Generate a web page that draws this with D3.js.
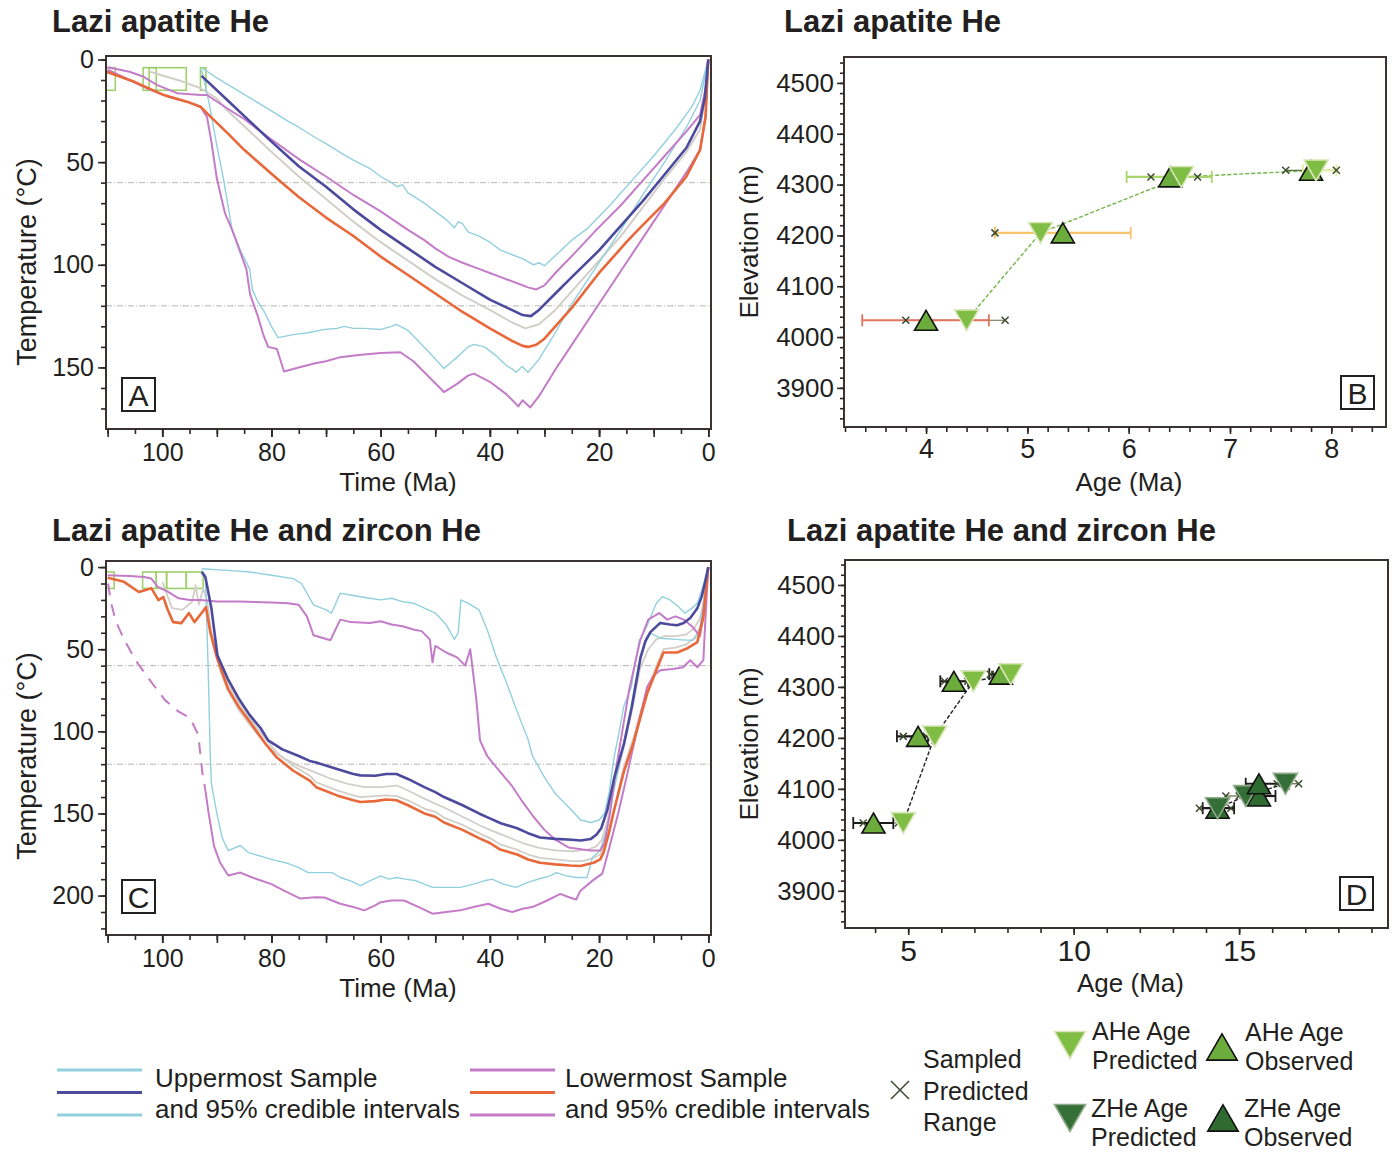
<!DOCTYPE html>
<html>
<head>
<meta charset="utf-8">
<script src="https://cdn.jsdelivr.net/npm/d3@7"></script>
<style>
  body { margin: 0; background: #fff; }
  svg { font-family: "Liberation Sans", Arial, sans-serif; }
</style>
</head>
<body>
<svg id="fig" width="1394" height="1152"></svg>
<script>
// ---- tick labels ----
const timeTicks = [100, 80, 60, 40, 20, 0];
const tempTicksA = [0, 50, 100, 150];
const tempTicksC = [0, 50, 100, 150, 200];
const elevTicks = [3900, 4000, 4100, 4200, 4300, 4400, 4500];
const ageTicksB = [4, 5, 6, 7, 8];
const ageTicksD = [5, 10, 15];
const przLimits = [60, 120];

// ---- panel A: time (Ma), temperature (C) ----
const aBoxes = [[110.4, 108.6, 4, 15], [103.5, 101.1, 4, 15], [102.4, 95.6, 4, 15], [93, 92, 4, 15]];
const aUpper = [[92.8,8],[88,20],[84,30],[80,40],[75,52],[70,62],[65,73],[60,83],[55,92],[50,101],[45,109],[40,117],[36,122],[34,124.5],[32.5,125],[31,122],[28,114],[25,106],[20,93],[17,84],[12,69],[8,56],[4,43],[1.5,30],[0.6,18],[0,0]];
const aMid = [[102.2,6],[96,11],[93,14],[90,19],[88,25],[84,35],[80,45],[75,57],[70,68],[65,79],[60,89],[55,98],[50,107],[45,115],[40,122],[36,128],[33.5,131],[31,129],[28,122],[25,113],[20,98],[16,86],[12,72],[8,58],[4,45],[1.5,34],[0.5,18],[0,0]];
const aLower = [[110.2,6],[105,11],[100,17],[95,21],[93,23],[91.5,27],[88,36],[85,44],[79,58],[75,67],[70,77],[65,86],[60,96],[55,105],[50,114],[45,123],[40,131],[36,137],[34,139.5],[33,140],[31.5,139],[30,136],[25,121],[20,104],[15,89],[12.5,82],[8,70],[4,57],[1.5,44],[0.5,28],[0,0]];
const aUpperCold = [[92.8,4],[90,9],[85,17],[80,25],[77,30],[75,33],[72,38],[70,41],[67,46],[65,49],[62,53],[60,57],[58,60],[57,62],[56,61],[55,65],[52,70],[50,74],[48,78],[46.5,82],[45.8,79],[45,80],[44,84],[42,86],[40,89],[38,93],[36,95],[34,97],[32,100],[31,99],[30,100.5],[29,98],[27,93],[25,88],[22,82],[18,71],[14,59],[10,47],[6,34],[3,23],[1.5,15],[0,0]];
const aUpperHot = [[92.8,5],[91.5,20],[90,42],[88.8,58],[87.2,83],[85.5,94],[84,102],[83.5,112],[82.5,118],[81.3,123],[80,130],[78.8,135.5],[76,134],[73,133],[70.3,131.5],[68,131],[66.7,130],[65,131],[63,131],[60,131.5],[58,130],[57.1,129],[55,132],[53.5,136],[51,143],[48.4,150.5],[46,145],[44,140],[42.9,138.8],[41,140],[39,144],[37,149],[35.8,151],[35.2,152.4],[34.1,149.5],[33,152.4],[31,146],[28,133],[25,119],[20,99],[16,83],[12,66],[8,50],[4,33],[1.5,20],[0,0]];
const aLowerCold = [[110,3.8],[106,6],[103.4,8.4],[101,12.4],[97.3,16.4],[93,17.3],[91.8,17.3],[88,24],[85,29],[80,39],[74.7,49],[70,57],[65,66],[60,74],[55,83],[52,88],[50,92],[47.6,96],[45,99],[42,102],[40,104],[38,106],[35,109],[33,111],[31.5,112],[30,110],[28,104],[24,93],[20.5,83],[16,71],[12,59],[8,47],[4,35],[1.5,27],[0.5,14],[0,0]];
const aLowerHot = [[110,5],[106,10],[102.2,14.8],[99.1,18],[95,21],[93,23],[91.8,28],[91,40],[90,58],[88.5,75],[87.2,83],[84.6,102],[83.9,114.5],[82.5,125],[81.5,134],[80.6,140],[79,141],[77.7,152],[75,150],[72,148],[70,147],[67.4,145],[64,144],[60,143],[56.4,142.6],[54,147],[51,155],[48.4,162],[46,158],[44,154],[42.9,153],[40,157],[37,163],[35.5,167],[34.8,169],[34,166],[32.6,169.5],[31,164],[28,151],[25,139],[20,119],[15,99],[11,83],[7,67],[4,55],[1.5,44],[0.5,28],[0,0]];

// ---- panel C ----
const cBoxes = [[110.4, 108.8, 3, 13], [103.6, 101.1, 3, 13], [101.1, 99.2, 3, 13], [99.2, 95.6, 3, 13], [95.6, 92.5, 3, 13]];
const cUpper = [[92.8,3],[92.1,6],[91,25],[89.9,53.7],[88,68],[86,80],[84,90],[82,98],[80.6,105.5],[78,111],[75,115],[73,118],[71.8,119],[68,123],[65,126],[63.7,126.8],[61,127],[59,126],[57.1,126],[55,129],[52,134],[50,137],[48.4,140],[45,145],[42,150],[40,153],[38,156],[35,159],[33,162],[30.8,164.6],[28,165.5],[25,166],[23.4,166.5],[21.5,165.5],[20.5,163],[19.6,159],[18.5,148],[17.2,128],[15.4,107],[14,85],[12.4,55],[11.5,45],[10.6,39.6],[8.8,34],[7,35],[5.7,35.4],[4.5,34],[3.3,31],[2,25],[1.2,18],[0.5,8],[0,0]];
const cMid = [[100,9],[99,18],[98.2,25],[96.3,26],[94.5,21],[93.9,11],[93.3,23],[92.5,13],[91.8,20],[91,40],[89.5,62],[88,75],[86,87],[84,96],[82,104],[80,111],[78,116],[75,121],[72,125],[69,129],[66,132],[63,134],[60,134],[57,133],[55,136],[52,141],[50,144],[48,147],[45,152],[42,157],[40,160],[37,164],[34,168],[31,171],[28,172.5],[25,173],[22,172],[20.5,170],[19.5,166],[18.5,155],[17.3,135],[15.5,110],[14,88],[12.5,62],[11,50],[9.5,44],[8,42],[6,42],[4,41],[2.5,37],[1.5,31],[0.8,20],[0,0]];
const cLowerNear = [[91.5,35],[90,52],[88,71],[86,82],[84,92],[81,105],[79,113],[76,121],[73,127],[71.8,131],[68,136],[65,139],[63.7,140],[61,139.5],[59,139],[57.1,139.5],[55,142],[52,147],[50,149],[48.4,152.5],[45,157],[42,162],[40,165],[38,169],[35,172],[33,175],[30.8,177],[28,178],[25,179],[23,179],[21,177],[19.8,175],[19,170],[18,158],[17,145],[15.5,122],[13.7,104],[12.3,87],[11,74],[9.5,60],[8.2,50],[6,49],[4,47],[2,42],[1,30],[0.3,10],[0,0]];
const cLower = [[110,6.5],[107,9],[104.3,15.2],[103,14],[102,12.8],[100.7,20.1],[99.8,18.3],[99,26],[98,33.5],[96.5,34.1],[95.1,28],[94.1,33.5],[92.8,28],[92,24.4],[91.2,39.6],[90,55],[88,73.8],[86,85],[83.9,94.5],[81,108],[79,116],[76,124],[73,130],[71.8,134],[68,139],[65,142],[63.7,143],[61,142.5],[59,141.5],[57.1,142],[55,145],[52,150],[50,152],[48.4,155.5],[45,160],[42,165],[40,168],[38.1,172],[35,175],[33,178],[30.8,180],[28,181],[25.3,181.7],[23.4,182],[21,180],[19.8,178],[19.2,174],[18.2,162],[17.4,150],[15.5,125],[13.7,107],[12.3,90],[11.2,77],[10,67],[9.3,61],[8.2,52],[7,52],[5.7,52],[3.8,49.4],[2,45.7],[0.9,30.5],[0.3,10],[0,0]];
const cUpperCold = [[92.8,1],[88,2],[84,3],[80,5],[76,7],[74.5,10],[72.3,23],[70,26],[69,28],[67.4,16],[65.5,17],[62,19],[60,20],[58,19],[56,21],[54,22],[52,25],[50,28],[48,35],[46.5,44],[45.8,40],[45.3,20],[44,22],[42,26],[40.5,38],[38.8,55],[37,70],[35,88],[33,105],[32.2,115],[30,128],[28,138],[25,148],[23.4,154],[21.5,155.5],[20,154],[19,150],[18.2,138],[17.2,115],[16.3,100],[15.5,85],[14.1,73],[13.2,55],[12.6,44.5],[11.5,38],[10.5,30],[9.5,22],[8.4,18],[7,20],[5.5,24],[4.3,28],[3,25],[2,22],[1,12],[0,0]];
const cUpperHot = [[92.8,2],[92.1,5],[91.6,60],[91.2,114.6],[91,131.7],[90,150],[89,165],[87.9,172.6],[85.7,169.5],[84.2,173.8],[82,176],[80,178],[76.9,180.5],[75,183],[73.3,186],[70,186],[68.9,186],[67.4,189],[65.5,191],[63.7,194],[62,191],[60,188],[58.5,190],[57.1,189],[55.5,190],[53.5,191],[52,193],[50.5,195],[48,195],[45.4,195],[43,193],[41,191],[39.6,190],[37.5,193],[35.2,195],[33,192],[30.8,189.6],[29,188],[27.8,186],[26,188],[24.2,189],[22.2,189],[21.2,176.8],[19.8,172.6],[18.6,160],[17.4,137.8],[16,115],[14.8,97.6],[13.6,75],[12.5,56.7],[11.5,46],[10.6,40.2],[9.5,42],[8.8,43.3],[6,44],[4,44.5],[2.7,44.5],[1.5,36.6],[0.8,20],[0,0]];
const cLowerCold = [[110,5],[106,5.5],[103.3,6.1],[102,7],[100.8,12],[99,15],[97,19],[95,20],[93,20],[90,21],[86,21],[80,21.5],[77,22],[75,23],[73.5,30],[72.3,41.5],[69.2,44.5],[67.4,32],[65.5,33.5],[62,34],[60,33],[58,35],[56,36],[54,38],[52.5,39],[51,44],[50.5,58],[50,48],[48,52],[46,55],[44.5,60],[43.6,50],[42.5,80],[41.8,105.5],[40.5,115],[38.8,122],[36,133],[34,143],[32,152],[30,160],[28,166],[25.6,170.7],[23,172],[21.5,172.6],[19.8,172.6],[19,168],[18,150],[17,125],[15.5,95],[14.5,75],[13.5,60],[12.5,45],[11,32],[9,28],[7.5,32],[6,30],[4.5,32],[3,36],[2,40],[1.5,42],[0.8,25],[0,0]];
const cLowerHotDash = [[109.9,10],[109.5,20],[108.5,33],[107,44],[104.9,56.7],[102,70],[99.5,81],[97,88],[94.9,92],[93.4,102],[92.7,124],[92.1,136]];
const cLowerHot = [[92.1,136],[91.5,150],[90.5,170],[89.4,180],[87.9,187.8],[85.7,186],[83.5,189],[80,193],[77.7,197],[74.7,201.8],[72,201],[70.3,201.2],[67.4,205],[65,207],[63,209],[61,206],[60,204],[58,203],[55.7,203],[53,207],[50.5,211],[48,210],[45.4,209],[43,207],[40.3,205],[38,208],[35.9,210],[34,208],[32.2,207],[29.5,203],[27.1,199],[25.5,201],[24.2,202.4],[23.4,197],[21.2,190.9],[19.4,186.6],[18.4,174.4],[16.5,150],[14.8,125.6],[13,98],[11.2,73],[10,66],[8.8,62.8],[6.5,62],[4.6,61],[3.3,56.7],[2,61],[0.9,56.7],[0.5,30],[0,0]];

// ---- panel B: AHe age vs elevation ----
const bElev = [4033, 4205, 4315, 4328];
const bObs = [4.00, 5.35, 6.41, 7.80];
const bPred = [4.40, 5.13, 6.52, 7.85];
const bErrLo = [3.37, 4.68, 5.98, 7.72];
const bErrHi = [4.62, 6.02, 6.82, 8.05];
const bRangeLo = [3.80, 4.68, 6.22, 7.55];
const bRangeHi = [4.78, 5.35, 6.68, 8.05];
const bBarColor = ["#e3735f", "#f5c46c", "#a9d66c", "#e6eea2"];

// ---- panel D: AHe and ZHe ----
const dAElev = [4033, 4203, 4311, 4325];
const dAObs = [3.95, 5.30, 6.38, 7.80];
const dAPred = [4.85, 5.80, 6.97, 8.10];
const dAErrLo = [3.34, 4.66, 5.97, 7.45];
const dAErrHi = [4.55, 5.60, 6.81, 7.95];
const dARangeLo = [3.64, 4.85, 6.10, 7.48];
const dARangeHi = [4.70, 5.55, 6.80, 7.62];
const dZElev = [4062, 4086, 4110];
const dZObs = [14.35, 15.60, 15.60];
const dZPred = [14.35, 15.20, 16.40];
const dZErrLo = [13.90, 15.18, 15.20];
const dZErrHi = [14.85, 16.10, 16.50];
const dZRangeLo = [13.80, 14.60, 16.15];
const dZRangeHi = [14.75, 15.00, 16.80];

// ---- colours ----
const cyan = "#92d0de", navy = "#4c4a9c", magenta = "#c47cc8", orange = "#e8683a", grey = "#d3cfc8";
const boxGreen = "#9fd06c", ink = "#231f20";
const aheObs = "#6cac3c", ahePred = "#80bd44", zheObs = "#2f6b31", zhePred = "#336f36";

const svg = d3.select("#fig");
const FONT = '"Liberation Sans", Arial, sans-serif';

function axis(g, gen, vals, len, pad, fs, fmt) {
  const a = g.append("g").call(gen.tickValues(vals).tickSize(len).tickPadding(pad).tickFormat(fmt || ""));
  a.select(".domain").remove();
  a.selectAll("line").attr("stroke", "#2e2825").attr("stroke-width", 1.6);
  a.selectAll("text").attr("font-size", fs).attr("fill", ink).attr("font-family", FONT);
  return a;
}

function title(text, x, y) {
  svg.append("text").attr("x", x).attr("y", y).attr("font-size", 31).attr("font-weight", "bold")
    .attr("fill", ink).text(text);
}

function letterBox(L, x, y) {
  svg.append("rect").attr("x", x).attr("y", y).attr("width", 33).attr("height", 33)
    .attr("fill", "#fff").attr("stroke", ink).attr("stroke-width", 2);
  svg.append("text").attr("x", x + 16.5).attr("y", y + 28).attr("text-anchor", "middle")
    .attr("font-size", 30).attr("fill", ink).text(L);
}

function ttPanel(o) {
  const x = d3.scaleLinear().domain([110.3, -0.5]).range([106, 711]);
  const y = d3.scaleLinear().domain(o.yDom).range([o.top, o.bottom]);
  const g = svg.append("g");
  g.append("clipPath").attr("id", o.id).append("rect")
    .attr("x", 106).attr("y", o.top).attr("width", 605).attr("height", o.bottom - o.top);
  const p = g.append("g").attr("clip-path", `url(#${o.id})`);

  p.selectAll(".prz").data(przLimits).join("line")
    .attr("x1", 106).attr("x2", 711).attr("y1", d => y(d)).attr("y2", d => y(d))
    .attr("stroke", "#b9b6b2").attr("stroke-width", 1).attr("stroke-dasharray", "6,2,1,2");

  p.selectAll(".box").data(o.boxes).join("rect")
    .attr("x", d => x(d[0])).attr("y", d => y(d[2]))
    .attr("width", d => x(d[1]) - x(d[0])).attr("height", d => y(d[3]) - y(d[2]))
    .attr("fill", "none").attr("stroke", boxGreen).attr("stroke-width", 1.6);

  const line = d3.line().x(d => x(d[0])).y(d => y(d[1]));
  o.paths.forEach(s => {
    p.append("path").attr("d", line(s.data)).attr("fill", "none")
      .attr("stroke", s.color).attr("stroke-width", s.w)
      .attr("stroke-dasharray", s.dash || null).attr("stroke-linejoin", "round");
  });

  g.append("rect").attr("x", 106).attr("y", o.top).attr("width", 605).attr("height", o.bottom - o.top)
    .attr("fill", "none").attr("stroke", "#3a332f").attr("stroke-width", 2);

  const bx = g.append("g").attr("transform", `translate(0,${o.bottom})`);
  axis(bx, d3.axisBottom(x), d3.range(0, 111, 5), 5, 0, 0);
  axis(bx, d3.axisBottom(x), d3.range(0, 111, 10), 8, 0, 0);
  axis(bx, d3.axisBottom(x), timeTicks, 8, 6, 25, d3.format("d"));
  const ly = g.append("g").attr("transform", "translate(106,0)");
  axis(ly, d3.axisLeft(y), d3.range(0, o.yDom[1], 10), 5, 0, 0);
  axis(ly, d3.axisLeft(y), o.yTicks, 8, 4, 25, d3.format("d"));

  g.append("text").attr("x", 398).attr("y", o.bottom + 62).attr("text-anchor", "middle")
    .attr("font-size", 26).attr("fill", ink).text("Time (Ma)");
  g.append("text").attr("transform", `translate(36,${o.labelY}) rotate(-90)`)
    .attr("text-anchor", "middle").attr("font-size", 27).attr("fill", ink).text("Temperature (°C)");
}

function cross(g, cx, cy, r, col) {
  g.append("path").attr("d", `M${cx - r},${cy - r}L${cx + r},${cy + r}M${cx - r},${cy + r}L${cx + r},${cy - r}`)
    .attr("stroke", col).attr("stroke-width", 1.5).attr("fill", "none");
}

// triangle centred on its bounding box
function tri(g, cx, cy, size, fill, stroke, down) {
  const side = Math.sqrt(size / 0.433), h = side * 0.866;
  const off = h / 6;
  g.append("path").attr("d", d3.symbol(d3.symbolTriangle, size)())
    .attr("transform", down ? `translate(${cx},${cy - off}) rotate(180)` : `translate(${cx},${cy + off})`)
    .attr("fill", fill).attr("stroke", stroke).attr("stroke-width", stroke === "none" ? 0 : 1.6);
}

function agePanel(o) {
  const x = d3.scaleLinear().domain(o.xDom).range([o.left, o.right]);
  const y = d3.scaleLinear().domain(o.yDom).range([o.bottom, o.top]);
  const g = svg.append("g");

  g.append("rect").attr("x", o.left).attr("y", o.top).attr("width", o.right - o.left).attr("height", o.bottom - o.top)
    .attr("fill", "none").attr("stroke", "#3a332f").attr("stroke-width", 2);

  const bx = g.append("g").attr("transform", `translate(0,${o.bottom})`);
  axis(bx, d3.axisBottom(x), o.xMinor, 5, 0, 0);
  axis(bx, d3.axisBottom(x), o.xTicks, 7, 5, o.xFont, d3.format("d"));
  const ly = g.append("g").attr("transform", `translate(${o.left},0)`);
  axis(ly, d3.axisLeft(y), d3.range(3840, 4541, 20), 4, 0, 0);
  axis(ly, d3.axisLeft(y), elevTicks, 7, 3, 26, d3.format("d"));

  g.append("text").attr("x", (o.left + o.right) / 2 + 14).attr("y", o.bottom + 64).attr("text-anchor", "middle")
    .attr("font-size", 26).attr("fill", ink).text("Age (Ma)");
  g.append("text").attr("transform", `translate(758,${(o.top + o.bottom) / 2}) rotate(-90)`)
    .attr("text-anchor", "middle").attr("font-size", 26).attr("fill", ink).text("Elevation (m)");

  o.sets.forEach(s => {
    const idx = d3.range(s.elev.length);
    // predicted-age trend line
    const ln = d3.line().x(i => x(s.pred[i])).y(i => y(s.elev[i]));
    g.append("path").attr("d", ln(idx)).attr("fill", "none").attr("stroke", s.trend)
      .attr("stroke-width", 1.4).attr("stroke-dasharray", "4,2");
    idx.forEach(i => {
      const yy = y(s.elev[i]);
      g.append("line").attr("x1", x(s.rlo[i])).attr("x2", x(s.rhi[i])).attr("y1", yy).attr("y2", yy)
        .attr("stroke", "#5b6b45").attr("stroke-width", 1.2);
      const bc = s.barColor ? s.barColor[i] : "#1a1a1a";
      g.append("line").attr("x1", x(s.lo[i])).attr("x2", x(s.hi[i])).attr("y1", yy).attr("y2", yy)
        .attr("stroke", bc).attr("stroke-width", 2.2);
      [s.lo[i], s.hi[i]].forEach(v => g.append("line").attr("x1", x(v)).attr("x2", x(v))
        .attr("y1", yy - 6).attr("y2", yy + 6).attr("stroke", bc).attr("stroke-width", 1.8));
      cross(g, x(s.rlo[i]), yy, 3.5, "#3c4a30");
      cross(g, x(s.rhi[i]), yy, 3.5, "#3c4a30");
    });
    idx.forEach(i => {
      tri(g, x(s.obs[i]), y(s.elev[i]), 230, s.obsFill, "#111", false);
      tri(g, x(s.pred[i]), y(s.elev[i]), 250, s.predFill, s.predStroke, true);
    });
  });
}

// ---------- panels ----------
title("Lazi apatite He", 52, 32);
title("Lazi apatite He", 784, 32);
title("Lazi apatite He and zircon He", 52, 541);
title("Lazi apatite He and zircon He", 787, 541);

ttPanel({
  id: "clipA", top: 56, bottom: 429, yDom: [-1.7, 180], yTicks: tempTicksA, boxes: aBoxes, labelY: 262,
  paths: [
    { data: aMid, color: grey, w: 2 },
    { data: aUpperCold, color: cyan, w: 1.4 },
    { data: aUpperHot, color: cyan, w: 1.4 },
    { data: aLowerCold, color: magenta, w: 2 },
    { data: aLowerHot, color: magenta, w: 2 },
    { data: aLower, color: orange, w: 2.6 },
    { data: aUpper, color: navy, w: 2.6 }
  ]
});
ttPanel({
  id: "clipC", top: 561, bottom: 935, yDom: [-3.7, 224], yTicks: tempTicksC, boxes: cBoxes, labelY: 756,
  paths: [
    { data: cMid, color: grey, w: 1.8 },
    { data: cLowerNear, color: grey, w: 1.8 },
    { data: cUpperCold, color: cyan, w: 1.4 },
    { data: cUpperHot, color: cyan, w: 1.4 },
    { data: cLowerCold, color: magenta, w: 2 },
    { data: cLowerHot, color: magenta, w: 2 },
    { data: cLowerHotDash, color: magenta, w: 2, dash: "12,9" },
    { data: cLower, color: orange, w: 2.6 },
    { data: cUpper, color: navy, w: 2.6 }
  ]
});
letterBox("A", 122, 378);
letterBox("C", 122, 880);

agePanel({
  left: 844, right: 1386, top: 57, bottom: 427, xDom: [3.19, 8.54], yDom: [3823, 4551],
  xTicks: ageTicksB, xMinor: d3.range(3.2, 8.55, 0.2), xFont: 27,
  sets: [{
    elev: bElev, obs: bObs, pred: bPred, lo: bErrLo, hi: bErrHi, rlo: bRangeLo, rhi: bRangeHi,
    barColor: bBarColor, trend: "#72b447", obsFill: aheObs, predFill: ahePred, predStroke: "#d9e6b8"
  }]
});
agePanel({
  left: 845, right: 1388, top: 560, bottom: 928, xDom: [3.09, 19.5], yDom: [3827, 4549],
  xTicks: ageTicksD, xMinor: d3.range(4, 20, 1), xFont: 30,
  sets: [{
    elev: dAElev, obs: dAObs, pred: dAPred, lo: dAErrLo, hi: dAErrHi, rlo: dARangeLo, rhi: dARangeHi,
    trend: "#222", obsFill: aheObs, predFill: ahePred, predStroke: "#d9e6b8"
  }, {
    elev: dZElev, obs: dZObs, pred: dZPred, lo: dZErrLo, hi: dZErrHi, rlo: dZRangeLo, rhi: dZRangeHi,
    trend: "#222", obsFill: zheObs, predFill: zhePred, predStroke: "#8fa98a"
  }]
});
letterBox("B", 1341, 376);
letterBox("D", 1340, 877);

// ---------- legend ----------
const lg = svg.append("g").attr("font-size", 26).attr("fill", ink);
[{ x1: 57, x2: 142, cols: [cyan, navy, cyan], tx: 155, t: "Uppermost Sample" },
 { x1: 470, x2: 555, cols: [magenta, orange, magenta], tx: 565, t: "Lowermost Sample" }].forEach(gp => {
  gp.cols.forEach((c, i) => lg.append("line").attr("x1", gp.x1).attr("x2", gp.x2)
    .attr("y1", 1070 + i * 22.5).attr("y2", 1070 + i * 22.5).attr("stroke", c).attr("stroke-width", 3.2));
  lg.append("text").attr("x", gp.tx).attr("y", 1087).text(gp.t);
  lg.append("text").attr("x", gp.tx).attr("y", 1118).text("and 95% credible intervals");
});
cross(lg, 900, 1090, 9, "#3c4a30");
const lg2 = svg.append("g").attr("font-size", 25).attr("fill", ink);
["Sampled", "Predicted", "Range"].forEach((t, i) => lg2.append("text").attr("x", 923).attr("y", 1068 + i * 31.5).text(t));
tri(lg2, 1070, 1045, 420, ahePred, "#d9e6b8", true);
tri(lg2, 1222, 1047, 400, aheObs, "#111", false);
tri(lg2, 1070, 1118, 420, zhePred, "#8fa98a", true);
tri(lg2, 1223, 1118, 400, zheObs, "#111", false);
[["AHe Age", "Predicted", 1092, 1040], ["AHe Age", "Observed", 1245, 1041],
 ["ZHe Age", "Predicted", 1091, 1117], ["ZHe Age", "Observed", 1244, 1117]].forEach(d => {
  lg2.append("text").attr("x", d[2]).attr("y", d[3]).text(d[0]);
  lg2.append("text").attr("x", d[2]).attr("y", d[3] + 29).text(d[1]);
});
</script>
</body>
</html>
